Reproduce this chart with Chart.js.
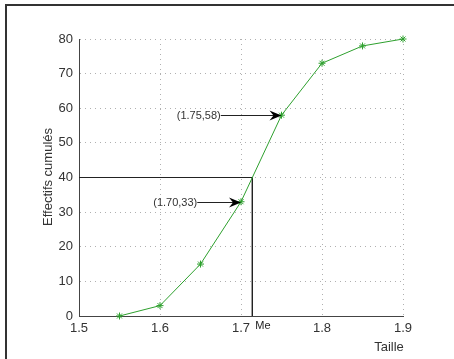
<!DOCTYPE html>
<html>
<head>
<meta charset="utf-8">
<script src="https://cdn.jsdelivr.net/npm/chart.js@4"></script>
<style>
  html, body { margin: 0; padding: 0; background: #fff; }
  #wrap { width: 454px; height: 359px; }
</style>
</head>
<body>
<div id="wrap"><canvas id="myChart" width="454" height="359"></canvas></div>
<script>
// tailles (m) et effectifs cumulés
const tailles = [1.55, 1.6, 1.65, 1.7, 1.75, 1.8, 1.85, 1.9];
const effectifs = [0, 3, 15, 33, 58, 73, 78, 80];
const xTicks = [1.5, 1.6, 1.7, 1.8, 1.9];
const yTicks = [0, 10, 20, 30, 40, 50, 60, 70, 80];
// médiane
const mediane = 1.714;
const moitie = 40;
// flèches : [x départ, x point, y, texte]
const fleches = [
  [1.675, 1.75, 58, '(1.75,58)'],
  [1.646, 1.70, 33, '(1.70,33)']
];

const FONT = 'Liberation Sans, Arial, sans-serif';

// étoile façon matlab
function star(ctx, x, y, r) {
  ctx.beginPath();
  for (let i = 0; i < 4; i++) {
    const a = i * Math.PI / 4;
    ctx.moveTo(x - r * Math.cos(a), y - r * Math.sin(a));
    ctx.lineTo(x + r * Math.cos(a), y + r * Math.sin(a));
  }
  ctx.stroke();
}

const decor = {
  id: 'decor',
  afterDraw(chart) {
    const ctx = chart.ctx;
    const xs = chart.scales.x, ys = chart.scales.y;
    ctx.save();
    // cadre
    ctx.strokeStyle = '#333';
    ctx.lineWidth = 2;
    ctx.strokeRect(6, 5, 470, 380);

    // marqueurs
    ctx.strokeStyle = '#2ea02e';
    ctx.lineWidth = 1;
    tailles.forEach((t, i) => {
      star(ctx, xs.getPixelForValue(t), ys.getPixelForValue(effectifs[i]), 3.5);
    });

    // flèches
    ctx.font = '11px ' + FONT;
    ctx.textBaseline = 'middle';
    ctx.textAlign = 'right';
    fleches.forEach(f => {
      const x0 = xs.getPixelForValue(f[0]);
      const x1 = xs.getPixelForValue(f[1]);
      const y = Math.round(ys.getPixelForValue(f[2])) + 0.5;
      ctx.strokeStyle = '#222';
      ctx.lineWidth = 1;
      ctx.beginPath();
      ctx.moveTo(x0, y);
      ctx.lineTo(x1 - 6, y);
      ctx.stroke();
      ctx.fillStyle = '#000';
      ctx.beginPath();
      ctx.moveTo(x1, y);
      ctx.lineTo(x1 - 12, y - 5);
      ctx.lineTo(x1 - 8, y);
      ctx.lineTo(x1 - 12, y + 5);
      ctx.closePath();
      ctx.fill();
      ctx.fillStyle = '#333';
      ctx.fillText(f[3], x0, y);
    });

    // Me
    ctx.textAlign = 'left';
    ctx.textBaseline = 'top';
    ctx.fillStyle = '#222';
    ctx.fillText('Me', xs.getPixelForValue(mediane) + 3, ys.bottom + 4);

    // titres des axes
    ctx.font = '13px ' + FONT;
    ctx.fillStyle = '#333';
    ctx.textAlign = 'center';
    ctx.textBaseline = 'middle';
    ctx.fillText('Taille', 389, 347);
    ctx.translate(48, 177);
    ctx.rotate(-Math.PI / 2);
    ctx.fillText('Effectifs cumulés', 0, 0);
    ctx.restore();
  }
};

const data = {
  datasets: [
    {
      label: 'Effectifs cumulés',
      data: tailles.map((t, i) => ({ x: t, y: effectifs[i] })),
      borderColor: '#2ea02e',
      borderWidth: 1,
      pointRadius: 0,
      tension: 0
    },
    {
      label: 'médiane',
      data: [{ x: xTicks[0], y: moitie }, { x: mediane, y: moitie }, { x: mediane, y: 0 }],
      borderColor: '#222',
      borderWidth: 1,
      pointRadius: 0,
      tension: 0
    }
  ]
};

const config = {
  type: 'line',
  data: data,
  options: {
    responsive: false,
    animation: false,
    layout: { padding: { left: 0, top: 39, right: 51, bottom: 0 } },
    plugins: { legend: { display: false }, tooltip: { enabled: false } },
    scales: {
      x: {
        type: 'linear',
        min: 1.5, max: 1.9,
        afterBuildTicks: s => { s.ticks = xTicks.map(v => ({ value: v })); },
        afterFit: s => { s.height = 43; },
        border: { color: '#444', width: 1, dash: [1, 4] },
        grid: { color: '#b0b0b0', drawTicks: false },
        ticks: {
          color: '#333', padding: 5,
          font: { family: FONT, size: 13 },
          callback: v => String(Math.round(v * 10) / 10)
        }
      },
      y: {
        min: 0, max: 80,
        afterBuildTicks: s => { s.ticks = yTicks.map(v => ({ value: v })); },
        afterFit: s => { s.width = 79; },
        border: { color: '#444', width: 1, dash: [1, 4] },
        grid: { color: '#b0b0b0', drawTicks: false },
        ticks: {
          color: '#333', padding: 6,
          font: { family: FONT, size: 13 }
        }
      }
    }
  },
  plugins: [decor]
};

const ctx = document.getElementById('myChart').getContext('2d');
new Chart(ctx, config);
</script>
</body>
</html>
